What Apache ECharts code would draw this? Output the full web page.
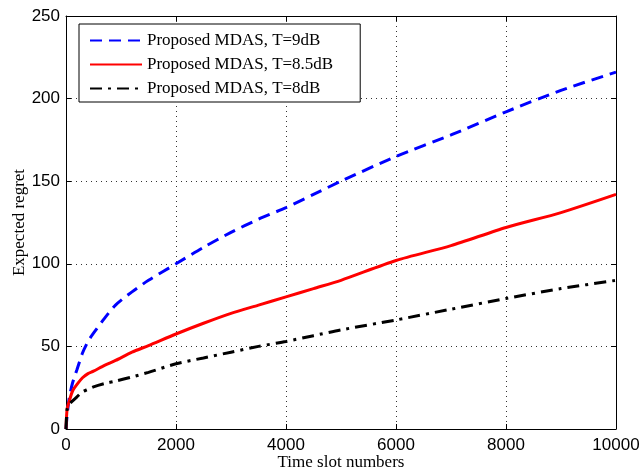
<!DOCTYPE html>
<html>
<head>
<meta charset="utf-8">
<script src="https://cdn.jsdelivr.net/npm/echarts@6/dist/echarts.min.js"></script>
<style>html,body{margin:0;padding:0;background:#fff;}#c{width:642px;height:469px;}</style>
</head>
<body>
<div id="c"></div>
<script>
const xs = [0, 20, 60, 120, 200, 300, 400, 500, 700, 900, 1200, 1500, 2000, 2500, 3000, 3500, 4000, 4500, 5000, 6000, 7000, 8000, 9000, 10000];
const blue9dB = [0, 8, 19, 28, 36, 46, 53, 58, 67, 75, 83, 90, 100, 110, 119, 127, 134, 142, 150, 165, 178, 192, 205, 216];
const red85dB = [0, 12, 17, 23, 27, 31, 33.5, 35, 38.5, 41.5, 46.5, 50.5, 57.5, 64, 70, 75, 80, 85, 90, 102, 111, 122, 131, 142];
const black8dB = [0, 12, 15, 17, 19.5, 22.5, 24, 25.5, 27.5, 29, 31.5, 34.3, 39.5, 43, 46.5, 50, 53, 56.5, 60, 66, 72.5, 79, 85, 90];
const seriesNames = ['Proposed MDAS, T=9dB', 'Proposed MDAS, T=8.5dB', 'Proposed MDAS, T=8dB'];
const xTicks = [0, 2000, 4000, 6000, 8000, 10000];
const yTicks = [0, 50, 100, 150, 200, 250];

const pair = (ys) => xs.map((x, i) => [x, ys[i]]);
const serif = 'Liberation Serif';
const sans = 'Liberation Sans';

const baseX = {
  type: 'value', min: xTicks[0], max: xTicks[xTicks.length - 1], interval: 2000,
  axisLine: { show: true, onZero: false, lineStyle: { color: '#000', width: 1 } },
  axisTick: { show: true, inside: true, length: 5, lineStyle: { color: '#000' } },
  splitLine: { show: false }
};
const baseY = {
  type: 'value', min: yTicks[0], max: yTicks[yTicks.length - 1], interval: 50,
  axisLine: { show: true, onZero: false, lineStyle: { color: '#000', width: 1 } },
  axisTick: { show: true, inside: true, length: 5, lineStyle: { color: '#000' } },
  splitLine: { show: false }
};

const chart = echarts.init(document.getElementById('c'), null, { renderer: 'canvas' });
chart.setOption({
  animation: false,
  backgroundColor: '#fff',
  grid: { left: 66, right: 26, top: 16, bottom: 40, containLabel: false, outerBoundsMode: 'none' },
  legend: {
    left: 79, top: 24,
    orient: 'vertical',
    data: seriesNames,
    itemWidth: 52, itemHeight: 16, itemGap: 7,
    padding: [8, 27, 5, 10],
    borderColor: '#000', borderWidth: 1, backgroundColor: '#fff',
    itemStyle: { opacity: 0 },
    textStyle: { fontFamily: serif, fontSize: 17, color: '#000' }
  },
  xAxis: [
    Object.assign({}, baseX, {
      position: 'bottom',
      name: 'Time slot numbers', nameLocation: 'middle', nameGap: 25, nameMoveOverlap: false,
      nameTextStyle: { fontFamily: serif, fontSize: 17, color: '#000' },
      axisLabel: { fontFamily: sans, fontSize: 17, color: '#000', margin: 8, formatter: (v) => String(v) },
      splitLine: { show: true, lineStyle: { color: '#333', type: [1, 4], width: 1 } }
    }),
    Object.assign({}, baseX, { position: 'top', axisLabel: { show: false } })
  ],
  yAxis: [
    Object.assign({}, baseY, {
      position: 'left',
      name: 'Expected regret', nameLocation: 'middle', nameGap: 38, nameRotate: 90, nameMoveOverlap: false,
      nameTextStyle: { fontFamily: serif, fontSize: 17, color: '#000' },
      axisLabel: { fontFamily: sans, fontSize: 17, color: '#000', margin: 6, formatter: (v) => String(v) },
      splitLine: { show: true, lineStyle: { color: '#333', type: [1, 4], width: 1 } }
    }),
    Object.assign({}, baseY, { position: 'right', axisLabel: { show: false } })
  ],
  series: [
    {
      name: seriesNames[0], type: 'line', data: pair(blue9dB), symbol: 'none', smooth: 0.25,
      xAxisIndex: 0, yAxisIndex: 0,
      lineStyle: { color: '#0000ff', width: 3, type: [12, 7] },
      itemStyle: { color: '#0000ff' }
    },
    {
      name: seriesNames[1], type: 'line', data: pair(red85dB), symbol: 'none', smooth: 0.25,
      xAxisIndex: 0, yAxisIndex: 0,
      lineStyle: { color: '#ff0000', width: 3, type: 'solid' },
      itemStyle: { color: '#ff0000' }
    },
    {
      name: seriesNames[2], type: 'line', data: pair(black8dB), symbol: 'none', smooth: 0.25,
      xAxisIndex: 0, yAxisIndex: 0,
      lineStyle: { color: '#000000', width: 3, type: [12, 6, 3, 6] },
      itemStyle: { color: '#000000' }
    }
  ]
});
</script>
</body>
</html>
